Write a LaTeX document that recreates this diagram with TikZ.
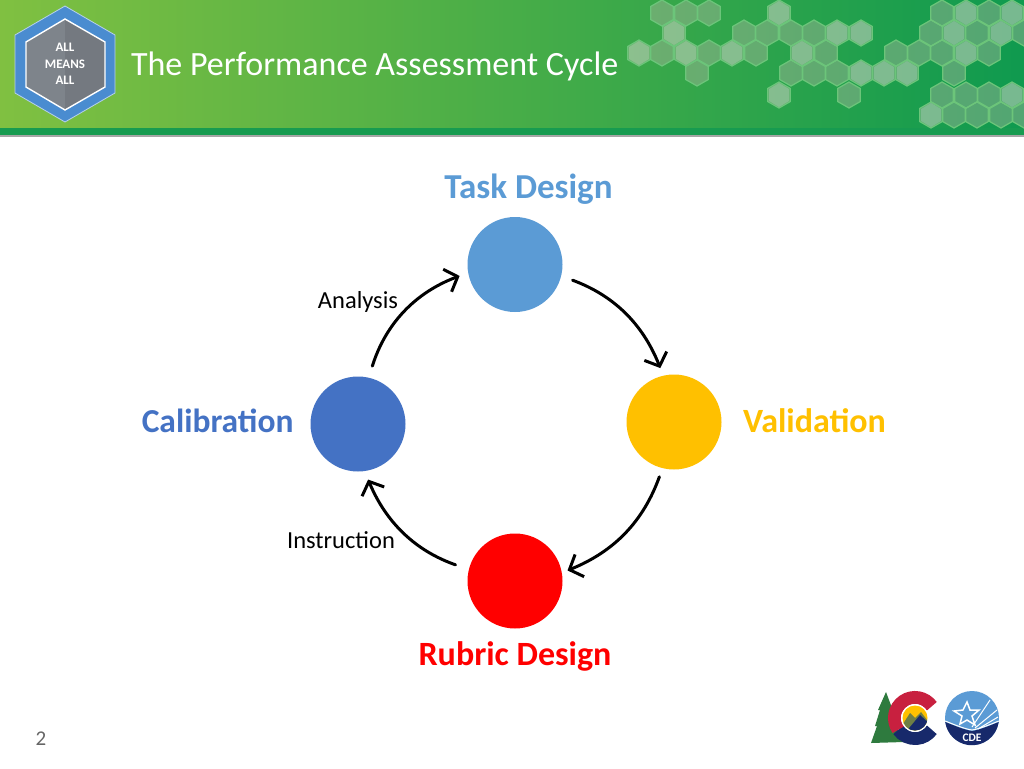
\documentclass[tikz,border=0pt]{standalone}
\usepackage{fontspec}
\setmainfont{Carlito}
\usetikzlibrary{arrows.meta}
\definecolor{taskblue}{HTML}{5B9BD5}
\definecolor{calblue}{HTML}{4472C4}
\definecolor{valgold}{HTML}{FFC000}
\definecolor{rubricred}{HTML}{FF0000}
\definecolor{bandleft}{HTML}{80C041}
\definecolor{bandright}{HTML}{0F9A4F}
\definecolor{banddark}{HTML}{179B50}
\definecolor{cellline}{HTML}{6CC57A}
\definecolor{cellfill}{HTML}{B8B8A8}
\definecolor{badgeblue}{HTML}{4A8CD0}
\definecolor{badgegray}{HTML}{7E848B}
\definecolor{treegreen}{HTML}{2E7A3E}
\definecolor{flagred}{HTML}{C8203F}
\definecolor{flagnavy}{HTML}{17296B}
\definecolor{peakgreen}{HTML}{6E7F45}
\tikzset{
	stage/.style={circle, minimum size=95pt, inner sep=0pt},
	stagename/.style={font=\fontsize{34}{38}\selectfont\bfseries},
	sidetext/.style={font=\fontsize{24.5}{28}\selectfont, text=black},
	cyclearrow/.style={draw=black, line width=3pt, line cap=round, -{Straight Barb[length=11pt,width=24pt,line width=3pt]}},
	hexcell/.style={fill=cellfill, fill opacity=0.4, draw=cellline, line width=1.2pt},
	hexglow/.style={fill=white, fill opacity=0.22},
}
\newcommand{\hexcell}[2]{%
	\draw[hexcell] (#1,#2-13) -- (#1+11.2,#2-6.6) -- (#1+11.2,#2+6.6) -- (#1,#2+13)
		-- (#1-11.2,#2+6.6) -- (#1-11.2,#2-6.6) -- cycle;
}
\newcommand{\hexglow}[2]{%
	\fill[hexglow] (#1,#2-12) -- (#1+10,#2-6) -- (#1+10,#2+6) -- (#1,#2+12)
		-- (#1-10,#2+6) -- (#1-10,#2-6) -- cycle;
}
\begin{document}
\begin{tikzpicture}[x=1pt,y=-1pt]
	\useasboundingbox (0,0) rectangle (1024,768);
	\fill[white] (0,0) rectangle (1024,768);

	% header band
	\fill[left color=bandleft, right color=bandright] (0,0) rectangle (1024,129);
	\fill[banddark] (0,128) rectangle (1024,135);
	\fill[black!35] (0,135) rectangle (1024,136.5);

	% honeycomb
	\foreach \xcell in {662,686,709,779,942,966,989,1012} {\hexcell{\xcell}{13}}
	\foreach \xcell in {674,744,767,791,814,837,861,931,954,977,1001,1024} {\hexcell{\xcell}{33}}
	\foreach \xcell in {639,662,686,709,732,756,802,826,896,919,942,966,989} {\hexcell{\xcell}{53}}
	\foreach \xcell in {697,791,814,837,861,884,907,954} {\hexcell{\xcell}{73}}
	\foreach \xcell in {779,849,942,966,989,1012} {\hexcell{\xcell}{95}}
	\foreach \xcell in {931,954,977,1001,1024} {\hexcell{\xcell}{115}}
	\foreach \xcell in {779,966,1012} {\hexglow{\xcell}{13}}
	\foreach \xcell in {674,837,861,954,1001} {\hexglow{\xcell}{33}}
	\foreach \xcell in {639,686,732,802,966} {\hexglow{\xcell}{53}}
	\foreach \xcell in {861,884,907} {\hexglow{\xcell}{73}}
	\foreach \xcell in {779,1012} {\hexglow{\xcell}{95}}
	\hexglow{931}{115}

	% badge
	\fill[badgeblue, draw=white!60!badgeblue, line width=0.8pt]
		(65,6) -- (115,35) -- (115,93) -- (65,122) -- (15,93) -- (15,35) -- cycle;
	\fill[badgegray] (65,19) -- (105,42) -- (105,87) -- (65,110) -- (26,87) -- (26,42) -- cycle;
	\fill[black, opacity=0.08] (65,19) -- (105,42) -- (105,87) -- (65,110) -- cycle;
	\draw[white, line width=1.4pt] (65,19) -- (105,42) -- (105,87) -- (65,110) -- (26,87) -- (26,42) -- cycle;
	\node[text=white, align=center, font=\fontsize{13}{16.5}\selectfont\bfseries] (badge) at (65,64) {ALL\\MEANS\\ALL};

	\node[text=white, anchor=west, font=\fontsize{34}{38}\selectfont] (title) at (127.5,66) {The Performance Assessment Cycle};

	% cycle
	\node[stage, fill=taskblue] (task) at (515,264.5) {};
	\node[stage, fill=valgold] (validation) at (674,422) {};
	\node[stage, fill=rubricred] (rubric) at (515,581) {};
	\node[stage, fill=calblue] (calibration) at (358,424) {};

	\node[stagename, font=\fontsize{35}{38}\selectfont\bfseries, text=taskblue] (tasklabel) at (528.5,189.5) {Task Design};
	\node[stagename, text=valgold, anchor=west] (vallabel) at (739.5,421) {Validation};
	\node[stagename, font=\fontsize{33.5}{38}\selectfont\bfseries, text=calblue, anchor=east] (callabel) at (297,421) {Calibration};
	\node[stagename, text=rubricred] (rubriclabel) at (515,656.5) {Rubric Design};

	\node[sidetext] (analysis) at (358,301.5) {Analysis};
	\node[sidetext] (instruction) at (341,540.5) {Instruction};

	\draw[cyclearrow, shorten <=12pt, shorten >=8pt] (task.-14) to[bend left=24] (validation.103);
	\draw[cyclearrow, shorten <=9pt, shorten >=6pt] (validation.-104) to[bend left=24] (rubric.10);
	\draw[cyclearrow, shorten <=14pt, shorten >=9pt] (rubric.166) to[bend left=24] (calibration.-82);
	\draw[cyclearrow, shorten <=12pt, shorten >=9pt] (calibration.77) to[bend left=26] (task.190);

	% footer
	\node[font=\fontsize{21}{25}\selectfont, text=black!60] (pagenum) at (41,739) {2};

	% state logo
	\fill[treegreen] (886,692) -- (892,708) -- (890,708) -- (897,724) -- (895,724) -- (904,742)
		-- (871,743) -- (877,726) -- (875,726) -- (880,710) -- (878,710) -- cycle;
	\draw[flagnavy, line width=13pt] ([shift={(915,718)}]-215:20.5) arc[start angle=-215, end angle=-325, radius=20.5];
	\draw[flagred, line width=13pt] ([shift={(915,718)}]-35:20.5) arc[start angle=-35, end angle=-215, radius=20.5];
	\fill[white] (915,718) circle[radius=14];
	\begin{scope}
		\clip (915,718) circle[radius=12.5];
		\fill[valgold] (900,703) rectangle (930,733);
		\fill[peakgreen] (901,727) -- (910,713) -- (915,718) -- (921,712) -- (930,724) -- (930,733) -- (900,733) -- cycle;
		\fill[flagnavy] (905,733) -- (920,715) -- (932,726) -- (932,733) -- cycle;
	\end{scope}

	% agency logo
	\fill[taskblue] (972,718) circle[radius=27];
	\fill[flagnavy] (945.3,722) .. controls (955,726) and (965,730) .. (972,731) .. controls (979,730) and (989,726) .. (998.7,722)
		arc[start angle=8, end angle=172, radius=27] -- cycle;
	\draw[white, line width=1pt] (945.3,721) .. controls (955,725) and (965,729) .. (972,730) .. controls (979,729) and (989,725) .. (998.7,721);
	\draw[white, line width=1.5pt, fill=taskblue] (967,702) -- (970,710) -- (979,710) -- (972,716) -- (975,725) -- (967,720) -- (960,724) -- (962,716) -- (954,711) -- (963,710) -- cycle;
	\draw[white, line width=1pt] (972,727) -- (990,700);
	\draw[white, line width=1pt] (975,728) -- (997,710);
	\draw[white, line width=1pt] (978,729) -- (998,717);
	\node[text=white, font=\fontsize{11.5}{13}\selectfont\bfseries] (agency) at (972,737.5) {CDE};
\end{tikzpicture}
\end{document}
